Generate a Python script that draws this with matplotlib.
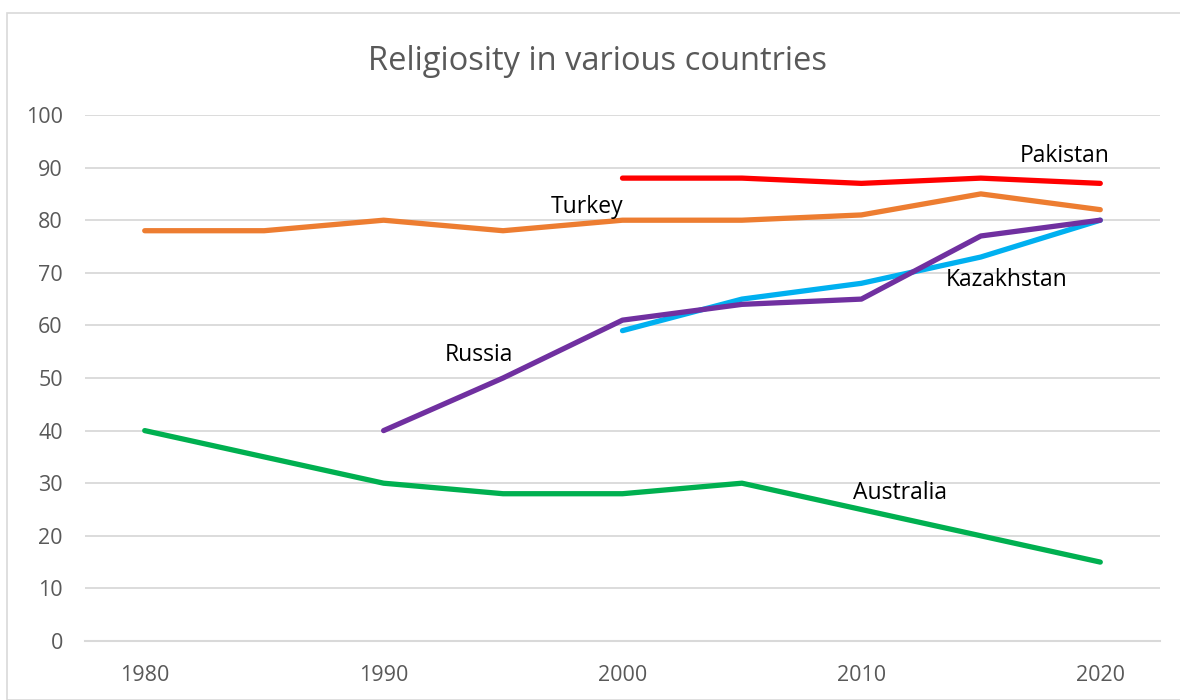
import matplotlib.pyplot as plt
from matplotlib.patches import Rectangle

plt.rcParams['font.family'] = ['Open Sans', 'DejaVu Sans']

years = [1980, 1985, 1990, 1995, 2000, 2005, 2010, 2015, 2020]

turkey = [78, 78, 80, 78, 80, 80, 81, 85, 82]
pakistan_years = [2000, 2005, 2010, 2015, 2020]
pakistan = [88, 88, 87, 88, 87]
kazakhstan_years = [2000, 2005, 2010, 2015, 2020]
kazakhstan = [59, 65, 68, 73, 80]
russia_years = [1990, 1995, 2000, 2005, 2010, 2015, 2020]
russia = [40, 50, 61, 64, 65, 77, 80]
australia = [40, 35, 30, 28, 28, 30, 25, 20, 15]

xticks = [1980, 1990, 2000, 2010, 2020]
yticks = list(range(0, 101, 10))

fig = plt.figure(figsize=(11.8, 7.0), dpi=100)
ax = fig.add_axes([85 / 1180, 59 / 700, 1075 / 1180, 526 / 700])

# chart frame
fig.patches.append(Rectangle((7 / 1180, 0), 1.0, 687 / 700, transform=fig.transFigure,
                             fill=False, edgecolor='#d9d9d9', linewidth=1.2))

lw = 3.8
ax.plot(years, turkey, color='#ED7D31', lw=lw, solid_joinstyle='round', solid_capstyle='round')
ax.plot(pakistan_years, pakistan, color='#FF0000', lw=lw, solid_joinstyle='round', solid_capstyle='round')
ax.plot(kazakhstan_years, kazakhstan, color='#00B0F0', lw=lw, solid_joinstyle='round', solid_capstyle='round')
ax.plot(russia_years, russia, color='#7030A0', lw=lw, solid_joinstyle='round', solid_capstyle='round')
ax.plot(years, australia, color='#00B050', lw=lw, solid_joinstyle='round', solid_capstyle='round')

lab = dict(fontsize=16.5, color='#000000', ha='center', va='center')
ax.text(1998.5, 82.5, 'Turkey', **lab)
ax.text(2018.5, 92.2, 'Pakistan', **lab)
ax.text(2016.1, 68.6, 'Kazakhstan', **lab)
ax.text(1994.0, 54.4, 'Russia', **lab)
ax.text(2011.6, 28.1, 'Australia', **lab)

ax.set_xlim(1977.5, 2022.5)
ax.set_ylim(0, 100)
ax.set_xticks(xticks)
ax.set_yticks(yticks)
ax.yaxis.grid(True, color='#d9d9d9', linewidth=1.3)
ax.set_axisbelow(True)
for s in ['top', 'right', 'left']:
    ax.spines[s].set_visible(False)
ax.spines['bottom'].set_color('#d9d9d9')
ax.spines['bottom'].set_linewidth(1.5)
ax.tick_params(axis='both', length=0, labelsize=15.5, labelcolor='#595959')
ax.tick_params(axis='y', pad=16)
ax.tick_params(axis='x', pad=17)

fig.text(598 / 1180, 1 - 62 / 700, 'Religiosity in various countries',
         fontsize=23.5, color='#595959', ha='center', va='center')

plt.savefig('out.png')
